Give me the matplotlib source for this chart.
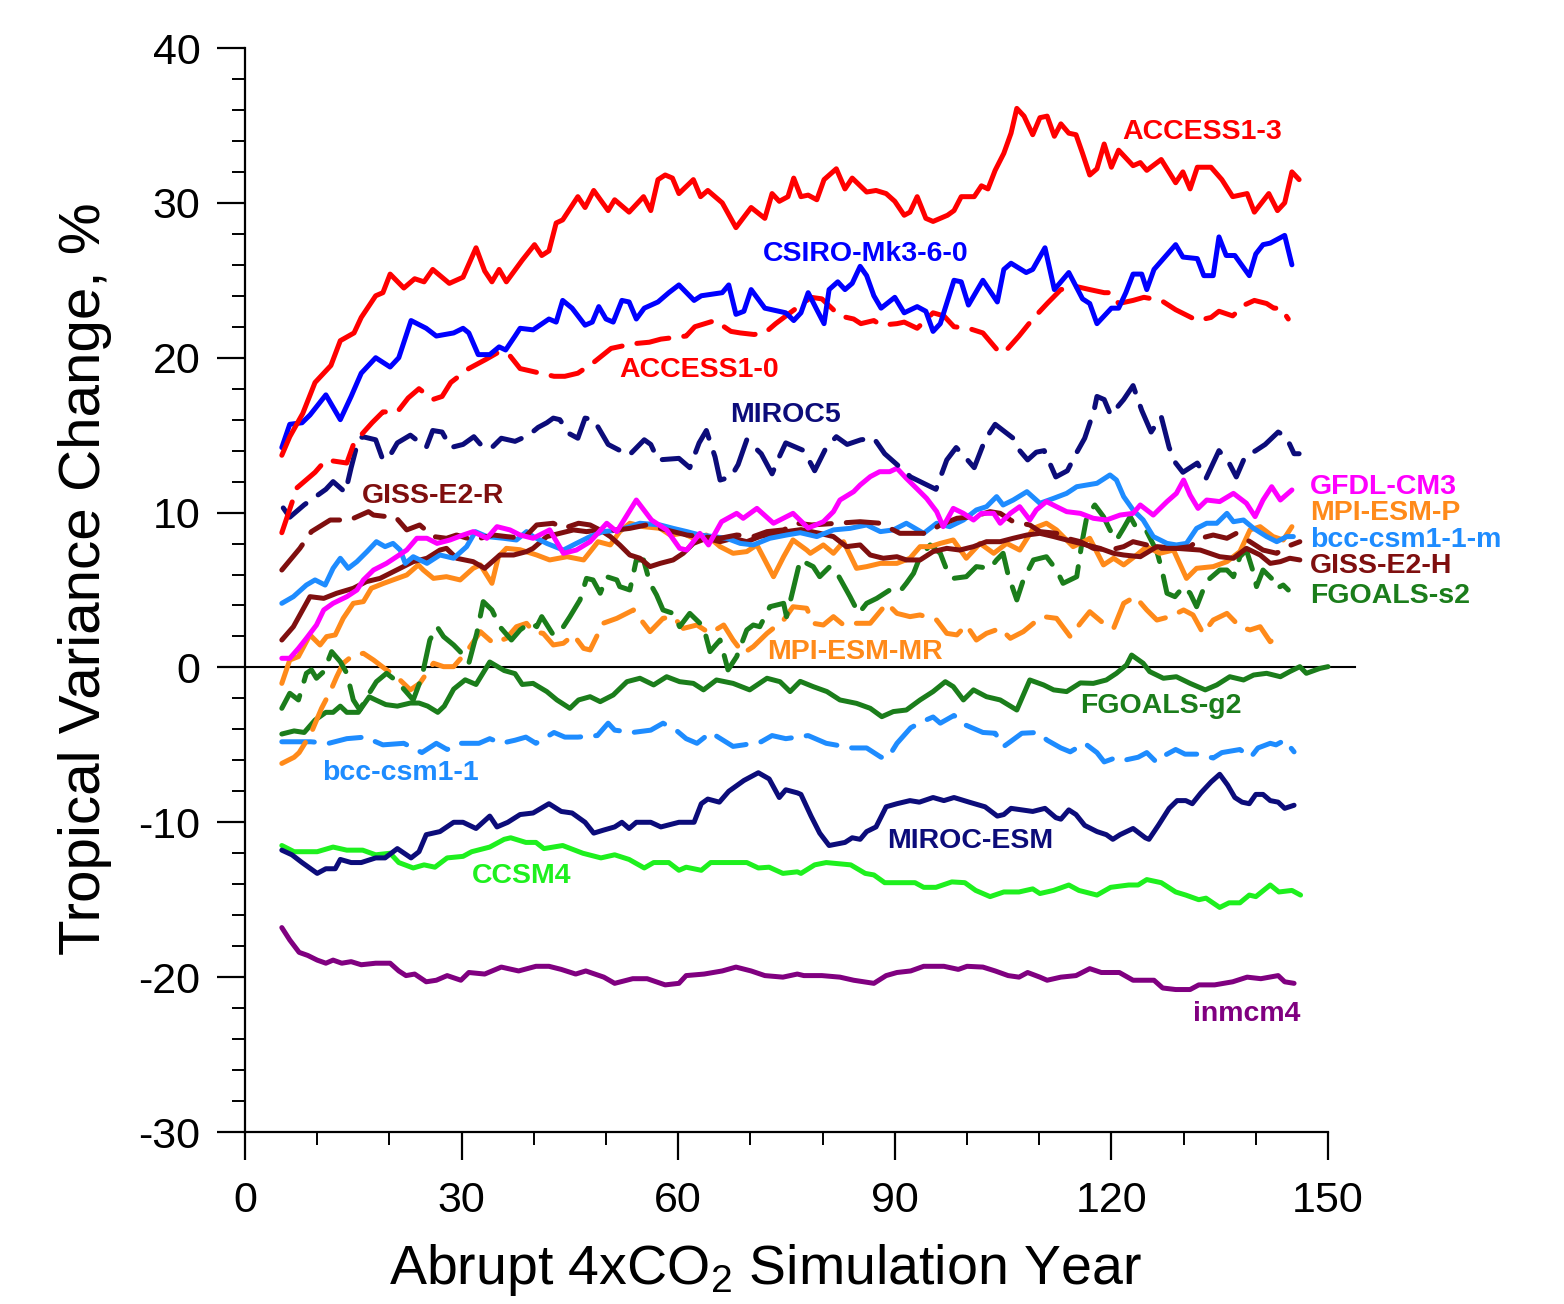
import numpy as np
import matplotlib
matplotlib.use("Agg")
import matplotlib.pyplot as plt
from matplotlib.ticker import FixedLocator

plt.rcParams['font.family'] = ['Liberation Sans', 'DejaVu Sans']
plt.rcParams['mathtext.fontset'] = 'custom'
plt.rcParams['mathtext.rm'] = 'Liberation Sans'
plt.rcParams['mathtext.it'] = 'Liberation Sans:italic'
plt.rcParams['axes.unicode_minus'] = False

# (year, % change)
access13 = [(5.1,13.7),(6.2,14.9),(8.0,16.4),(9.7,18.4),(11.9,19.5),(13.2,21.1),(15.1,21.6),(16.1,22.6),
            (18.1,24.0),(19.1,24.2),(20.1,25.4),(22.0,24.5),(23.5,25.1),(24.8,24.9),(26.0,25.7),(28.3,24.8),
            (30.2,25.2),(32.0,27.1),(33.2,25.6),(34.2,24.9),(35.2,25.7),(36.2,24.9),(38.4,26.3),(40.1,27.3),
            (41.1,26.6),(42.1,26.9),(43.1,28.7),(44.0,28.9),(46.1,30.4),(47.1,29.7),(48.3,30.8),(50.3,29.5),
            (51.2,30.2),(53.2,29.4),(55.2,30.4),(56.2,29.5),(57.2,31.5),(58.2,31.8),(59.2,31.6),(60.1,30.6),
            (62.1,31.5),(63.1,30.4),(64.1,30.8),(66.1,30.0),(68.0,28.4),(70.1,29.7),(72.0,29.0),(73.0,30.6),
            (74.0,30.1),(75.2,30.4),(76.0,31.6),(77.0,30.4),(78.0,30.5),(79.2,30.2),(80.2,31.5),(81.9,32.2),
            (83.1,30.9),(84.1,31.6),(86.1,30.7),(87.4,30.8),(88.8,30.6),(90.0,30.1),(91.3,29.2),(92.1,29.4),
            (93.1,30.4),(94.3,29.0),(95.3,28.8),(97.3,29.2),(98.2,29.5),(99.2,30.4),(101.0,30.4),(102.0,31.1),
            (102.9,30.9),(103.9,32.1),(105.1,33.2),(106.1,34.5),(106.9,36.1),(107.9,35.6),(109.1,34.4),
            (110.1,35.5),(111.1,35.6),(112.1,34.3),(113.0,35.1),(114.1,34.5),(115.1,34.4),(116.0,33.2),
            (117.0,31.8),(118.0,32.2),(119.0,33.8),(120.0,32.3),(121.0,33.4),(123.0,32.4),(124.0,32.6),
            (124.9,32.1),(126.9,32.8),(128.9,31.3),(129.9,32.0),(130.9,30.9),(131.9,32.3),(133.8,32.3),
            (135.3,31.5),(136.8,30.4),(138.8,30.6),(139.8,29.4),(141.8,30.6),(143.0,29.5),(144.0,30.0),
            (145.0,32.0),(146.0,31.5)]

csiro = [(5.1,14.2),(6.2,15.7),(7.9,15.8),(9.0,16.3),(11.2,17.6),(13.2,16.0),(14.7,17.5),(16.1,19.0),
         (18.1,20.0),(20.1,19.4),(21.3,20.0),(23.0,22.4),(25.1,21.9),(26.5,21.4),(28.9,21.6),(30.2,21.9),
         (31.0,21.6),(32.3,20.2),(33.9,20.2),(35.2,20.7),(36.1,20.5),(37.4,21.4),(38.1,21.9),(39.9,21.8),
         (42.1,22.5),(43.1,22.3),(44.0,23.7),(45.3,23.2),(47.1,22.1),(48.1,22.3),(49.0,23.3),(50.0,22.5),
         (51.0,22.3),(52.2,23.7),(53.2,23.6),(54.2,22.5),(55.3,23.2),(57.2,23.6),(58.7,24.2),(60.1,24.7),
         (62.2,23.7),(63.2,24.0),(66.1,24.2),(67.0,24.7),(68.0,22.8),(69.1,23.0),(70.1,24.4),(72.0,23.2),
         (74.9,22.9),(76.0,22.4),(77.0,22.9),(78.0,24.2),(79.2,23.1),(80.2,22.2),(80.9,24.4),(82.1,24.9),
         (83.1,24.4),(84.1,24.8),(85.2,25.9),(86.1,25.3),(87.1,24.0),(88.1,23.2),(90.0,23.9),(91.3,22.9),
         (93.1,23.3),(94.3,23.0),(95.3,21.7),(96.3,22.2),(98.2,25.0),(99.2,24.9),(100.2,23.4),(102.2,25.0),
         (104.2,23.6),(105.1,25.7),(106.1,26.1),(108.2,25.5),(109.1,25.7),(110.8,27.1),(112.1,24.4),
         (114.1,25.5),(116.0,23.8),(117.0,23.5),(118.0,22.2),(120.0,23.2),(121.0,23.2),(122.0,24.2),
         (123.0,25.4),(124.2,25.4),(124.9,24.4),(125.9,25.7),(128.9,27.3),(129.9,26.5),(131.9,26.4),
         (132.8,25.3),(134.1,25.3),(134.9,27.8),(135.9,26.6),(137.1,26.6),(139.1,25.3),(140.0,26.7),
         (141.0,27.3),(142.0,27.4),(144.0,27.9),(145.0,26.0)]

access10 = [(5.1,8.7),(7.2,11.6),(9.7,12.6),(11.2,13.4),(14.1,13.2),(15.1,14.5),(17.6,15.8),(19.1,16.5),
            (21.1,16.5),(22.6,17.4),(24.1,18.0),(26.0,17.3),(27.3,17.5),(28.5,18.4),(31.0,19.3),(33.4,19.9),
            (34.9,20.3),(36.4,20.3),(38.1,19.3),(40.9,19.0),(42.8,18.8),(44.3,18.8),(46.1,19.0),(48.3,19.7),
            (50.7,20.6),(53.7,20.9),(56.0,21.0),(57.6,21.2),(61.1,21.4),(62.3,22.0),(65.1,22.4),(67.3,21.7),
            (68.6,21.6),(70.5,21.5),(72.0,21.6),(73.5,22.2),(75.5,22.9),(78.4,23.9),(79.9,23.8),(82.4,22.7),
            (84.3,22.5),(85.3,22.2),(87.1,22.4),(88.1,22.1),(90.3,22.2),(91.3,22.3),(93.1,21.9),(95.3,22.9),
            (96.8,22.7),(98.2,22.0),(100.2,21.9),(102.2,21.6),(104.2,20.5),(105.1,20.3),(107.2,21.4),
            (109.1,22.5),(111.1,23.5),(113.0,24.4),(115.1,24.6),(117.0,24.4),(119.0,24.2),(120.0,24.2),
            (121.0,23.5),(123.0,23.7),(124.5,23.9),(126.9,23.7),(128.9,23.1),(131.9,22.4),(133.8,22.6),
            (134.9,23.0),(136.8,22.7),(138.4,23.4),(139.8,23.7),(141.5,23.5),(142.5,23.2),(143.5,23.2),
            (144.5,22.5)]

miroc5 = [(5.3,10.3),(6.2,9.7),(8.2,10.5),(10.0,11.1),(11.2,11.5),(12.2,12.0),(13.9,11.3),(14.7,12.9),
          (15.7,14.7),(16.3,14.9),(18.1,14.7),(19.1,13.4),(20.1,13.7),(21.1,14.5),(22.9,15.0),(25.1,14.2),
          (26.0,15.3),(27.3,15.2),(28.5,14.2),(30.2,14.4),(31.7,14.9),(33.0,14.2),(34.2,14.2),(35.5,14.8),
          (37.4,14.6),(39.3,15.0),(40.6,15.5),(41.8,15.8),(42.7,16.1),(43.6,16.0),(44.9,15.1),(46.1,14.8),
          (47.1,16.1),(48.3,16.0),(49.3,15.2),(50.3,14.4),(53.2,13.7),(55.3,14.7),(56.2,14.4),(57.2,13.4),
          (60.1,13.5),(61.6,12.9),(62.9,14.5),(63.9,15.3),(65.1,13.6),(65.8,12.1),(67.3,12.3),(68.3,13.1),
          (69.5,14.7),(71.5,13.8),(73.0,12.5),(74.0,13.6),(74.9,14.5),(77.4,14.0),(78.9,12.7),(80.5,14.2),
          (81.9,14.9),(83.4,14.4),(85.3,14.7),(87.1,14.8),(88.6,13.8),(90.3,13.1),(92.2,12.3),(95.7,11.5),
          (97.2,13.4),(98.5,14.2),(99.7,13.6),(101.0,12.9),(102.5,14.7),(103.9,15.7),(106.4,14.8),
          (107.3,14.0),(108.4,13.4),(109.6,13.9),(110.7,14.0),(112.3,12.3),(113.9,12.7),(115.1,13.8),
          (116.3,14.8),(117.6,16.6),(118.0,17.5),(119.0,17.3),(119.9,16.3),(121.7,17.3),(123.0,18.2),
          (124.2,16.6),(125.5,15.2),(126.9,16.2),(128.0,14.2),(128.9,13.2),(129.9,12.6),(131.9,13.2),
          (133.1,12.2),(134.9,14.0),(136.3,13.2),(137.3,12.3),(138.5,13.6),(140.0,14.0),(141.3,14.4),
          (143.1,15.2),(144.2,14.9),(145.3,13.8),(146.0,13.8)]

giss_e2_r = [(5.1,6.29),(7.6,7.69),(9.2,8.77),(11.8,9.52),(14.5,9.52),(17.1,10.06),(17.8,9.84),(19.6,9.74),
             (20.8,9.74),(22.4,8.88),(24.2,9.2),(26.1,8.45),(27.9,8.34),(29.3,8.55),(31.6,8.23),(34.4,8.55),
             (36.2,8.45),(38.6,8.34),(40.4,9.2),(42.7,9.31),(44.1,8.98),(46.2,9.31),(47.8,9.2),(49.6,8.77),
             (51.5,8.88),(53.3,8.98),(55.6,9.2),(57.5,8.98),(59.3,8.77),(61.2,8.55),(63.0,8.45),(65.8,8.34),
             (68.1,8.55),(70.4,8.45),(72.3,8.77),(74.6,8.88),(76.4,9.31),(78.5,9.2),(82.0,9.31),(85.2,9.41),
             (88.0,9.31),(90.7,8.66),(93.0,8.66),(94.4,8.66),(96.3,9.2),(98.6,9.63),(100.9,9.74),(103.2,10.06),
             (104.6,9.95),(106.4,9.41),(108.7,9.2),(110.1,8.77),(112.4,8.66),(113.8,8.34),(115.7,8.12),
             (117.5,7.69),(119.8,7.58),(121.7,7.8),(123.0,8.12),(124.9,7.91),(126.7,7.69),(129.0,7.69),
             (130.9,7.8),(132.3,8.34),(134.1,8.55),(136.0,8.34),(137.3,8.66),(139.2,8.12),(141.0,7.58),
             (142.9,7.37),(144.3,7.8),(146.1,8.12)]

giss_e2_h = [(5.1,1.77),(6.7,2.63),(9.0,4.57),(10.9,4.46),(12.7,4.79),(15.0,5.11),(16.8,5.54),(18.7,5.75),
             (21.0,6.29),(23.3,6.83),(25.2,7.05),(27.0,7.58),(27.9,7.69),(29.3,7.05),(31.6,6.83),(33.2,6.4),
             (35.3,7.26),(37.2,7.26),(39.0,7.48),(39.9,7.69),(41.8,8.45),(43.6,8.66),(45.5,8.88),(47.3,8.77),
             (49.2,8.88),(50.6,8.45),(51.9,7.91),(53.3,7.26),(54.7,7.05),(56.1,6.51),(57.5,6.72),(59.3,6.94),
             (60.7,7.37),(62.1,8.01),(63.9,8.34),(65.8,8.12),(67.6,8.34),(69.5,8.12),(71.3,8.45),(73.2,8.66),
             (75.0,8.77),(77.0,8.9),(79.6,8.66),(81.5,8.45),(83.3,7.8),(85.2,7.91),(86.6,7.26),(88.4,7.05),
             (90.3,7.15),(91.6,6.94),(93.5,6.94),(95.3,7.48),(97.2,7.69),(99.0,7.58),(100.9,7.8),(102.7,8.12),
             (104.6,8.12),(106.4,8.34),(108.3,8.55),(110.1,8.66),(112.0,8.45),(113.8,8.23),(115.7,8.01),
             (118.4,7.69),(120.3,7.37),(121.7,7.26),(124.0,7.15),(126.3,7.8),(129.0,7.69),(132.3,7.58),
             (135.0,7.15),(136.9,7.05),(138.7,7.69),(140.6,7.26),(142.0,6.72),(143.4,6.83),(144.7,7.05),
             (146.1,6.94)]

bcc_m = [(5.1,4.14),(6.7,4.57),(8.5,5.32),(9.7,5.65),(11.1,5.32),(12.2,6.4),(13.2,7.05),(14.3,6.4),
         (15.5,6.83),(16.9,7.48),(18.2,8.12),(19.4,7.8),(20.5,8.01),(21.5,7.58),(22.2,6.72),(23.3,7.15),
         (25.2,6.72),(27.0,7.26),(28.9,7.05),(30.7,7.8),(31.9,8.77),(33.5,8.45),(35.8,8.34),(37.6,8.23),
         (39.0,8.77),(39.9,8.45),(41.8,8.01),(44.1,7.58),(45.9,8.01),(47.8,8.45),(49.6,8.77),(51.9,8.88),
         (54.7,9.31),(57.5,9.2),(59.3,8.98),(61.2,8.77),(63.0,8.55),(64.9,8.45),(66.7,8.34),(68.6,8.01),
         (70.4,7.91),(72.7,8.34),(75.0,8.55),(76.9,8.7),(79.2,8.45),(81.5,8.88),(83.8,8.98),(86.1,9.2),
         (88.0,8.77),(89.8,8.88),(91.6,9.31),(94.0,8.66),(95.8,9.31),(97.6,9.09),(99.5,9.52),(101.3,10.17),
         (102.7,10.38),(104.1,11.03),(105.0,10.49),(106.4,10.81),(108.3,11.35),(110.1,10.6),(112.0,10.92),
         (113.8,11.24),(115.2,11.67),(116.6,11.78),(118.0,11.89),(119.8,12.43),(120.7,12.1),(121.7,11.03),
         (123.0,10.17),(124.4,9.52),(125.8,8.45),(127.7,8.01),(129.0,7.91),(130.4,8.01),(131.8,8.98),
         (133.2,9.31),(134.6,9.31),(136.0,9.95),(136.9,9.41),(138.3,9.52),(139.7,8.98),(141.5,8.45),
         (142.9,8.12),(144.3,8.45),(145.2,8.45)]

gfdl = [(5.1,0.59),(6.2,0.59),(7.4,1.23),(8.5,1.88),(9.9,2.74),(10.9,3.71),(12.2,4.14),(14.1,4.57),
        (15.5,5.0),(16.4,5.65),(17.8,6.29),(19.6,6.72),(21.0,7.15),(22.4,7.58),(23.8,8.34),(25.2,8.34),
        (26.6,8.01),(28.4,8.23),(30.2,8.55),(31.6,8.77),(33.5,8.34),(34.9,9.09),(36.7,8.88),(38.1,8.55),
        (39.9,8.34),(42.2,8.88),(44.1,7.37),(45.9,7.58),(47.8,8.12),(50.1,9.31),(51.5,8.77),(54.2,10.81),
        (56.3,9.52),(58.4,8.88),(60.2,7.69),(61.2,7.58),(63.0,8.66),(64.2,7.91),(66.0,9.41),(68.1,9.95),
        (69.0,9.63),(70.9,10.27),(73.2,9.31),(75.9,9.95),(78.0,9.0),(80.1,9.41),(81.5,10.06),(82.4,10.81),
        (84.3,11.35),(85.2,11.78),(86.6,12.32),(87.9,12.64),(89.3,12.64),(90.3,12.86),(91.6,12.21),
        (93.0,11.57),(94.4,10.92),(95.8,10.06),(96.7,9.09),(98.1,10.27),(99.5,9.95),(100.9,9.52),
        (102.0,9.95),(103.7,9.95),(104.6,9.31),(106.0,9.95),(107.3,10.38),(108.7,9.52),(109.6,10.17),
        (111.0,10.71),(112.4,10.38),(113.8,10.06),(115.7,9.95),(117.5,9.63),(119.3,9.52),(121.2,9.84),
        (123.0,9.95),(124.0,10.49),(125.8,9.84),(127.7,10.71),(129.0,11.24),(130.0,12.1),(130.9,11.13),
        (132.0,10.27),(133.2,10.81),(135.0,10.71),(136.9,11.24),(138.7,10.6),(139.9,9.74),(141.0,10.81),
        (142.2,11.67),(143.4,10.81),(145.0,11.46)]

mpi_p = [(5.1,-1.03),(6.2,0.48),(7.4,0.7),(9.0,2.1),(10.4,1.45),(11.3,1.99),(12.5,2.1),(13.6,3.17),
         (15.0,4.14),(16.4,4.25),(17.5,5.11),(19.2,5.43),(20.5,5.65),(22.4,5.97),(24.0,6.62),(24.7,6.29),
         (26.1,5.75),(27.9,5.86),(29.8,5.65),(31.6,6.4),(32.6,6.62),(34.2,5.43),(35.1,7.15),(36.2,7.69),
         (38.1,7.6),(40.4,7.26),(42.2,6.94),(44.6,7.15),(46.9,6.94),(48.9,8.12),(50.6,7.91),(51.9,8.77),
         (53.3,9.31),(55.2,9.09),(57.5,8.98),(58.9,8.55),(60.7,8.66),(62.1,8.34),(63.9,8.55),(65.8,7.8),
         (67.6,7.37),(69.5,7.48),(70.9,7.91),(73.2,5.86),(74.6,7.15),(75.9,8.23),(77.8,7.58),(78.3,7.37),
         (80.1,7.91),(81.5,7.37),(82.9,8.12),(84.7,6.4),(86.1,6.51),(88.0,6.72),(90.3,6.72),(92.1,7.05),
         (93.5,7.8),(94.9,7.8),(96.3,8.01),(98.1,8.23),(99.9,7.05),(101.8,8.01),(103.7,7.37),(105.5,8.01),
         (107.3,7.58),(109.2,8.98),(111.0,9.31),(112.4,8.88),(114.7,7.8),(116.6,8.23),(117.0,8.34),
         (118.9,6.62),(120.3,7.05),(121.7,6.62),(123.5,7.26),(124.9,7.8),(126.7,7.37),(128.6,7.58),
         (130.4,5.75),(131.8,6.4),(134.1,6.51),(136.0,6.83),(137.8,7.48),(139.2,8.88),(140.6,9.09),
         (142.4,8.45),(143.8,8.23),(145.0,9.09)]

mpi_mr = [(5.1,-6.2),(6.8,-5.8),(7.5,-5.5),(9.1,-4.3),(10.6,-2.64),(11.8,-1.56),(12.7,-0.6),(13.6,0.27),
          (15.0,0.8),(16.4,0.91),(17.8,0.48),(19.6,-0.16),(21.0,-0.6),(22.9,-1.45),(24.2,-1.03),(26.1,0.27),
          (27.5,0.05),(28.9,0.05),(30.7,1.02),(32.6,2.31),(34.4,1.56),(36.2,1.88),(37.6,2.63),(39.0,2.85),
          (39.9,2.31),(41.3,2.2),(42.7,1.45),(44.1,1.56),(45.5,2.1),(46.9,1.23),(47.8,1.13),(49.6,2.85),
          (51.5,3.17),(53.8,3.71),(56.1,2.31),(57.9,3.17),(59.3,3.28),(60.7,2.52),(62.6,2.74),(64.4,2.2),
          (66.3,2.74),(67.6,1.77),(69.0,0.91),(70.4,1.34),(72.3,2.2),(74.6,3.06),(75.9,3.92),(77.8,3.82),
          (78.7,2.85),(80.1,2.74),(81.5,3.28),(82.9,2.74),(84.3,2.85),(86.6,2.85),(88.9,4.14),(90.3,3.49),
          (92.1,3.28),(93.5,3.39),(95.8,3.06),(97.2,2.2),(98.6,2.1),(99.9,2.74),(101.3,1.77),(102.7,2.2),
          (104.6,2.52),(106.0,1.88),(107.8,2.31),(109.2,2.85),(110.6,3.28),(112.4,3.17),(114.3,1.99),
          (115.7,2.85),(117.0,3.6),(118.9,2.85),(120.3,2.52),(121.7,4.14),(123.3,4.57),(124.9,3.71),
          (126.3,3.06),(128.1,3.28),(130.0,3.71),(131.3,3.39),(132.7,2.2),(134.1,3.06),(136.0,3.49),
          (137.8,2.63),(139.2,2.42),(140.6,2.63),(142.0,1.66),(143.4,2.1)]

fgoals_s2 = [(5.1,-2.64),(6.2,-1.67),(7.4,-2.1),(8.5,-0.38),(9.2,-0.16),(9.9,-0.7),(10.9,-0.27),(12.0,1.02),
             (13.2,0.37),(14.1,-0.38),(15.0,-2.1),(15.9,-2.75),(16.9,-1.89),(18.2,-0.92),(19.6,-0.38),
             (20.5,-0.7),(21.9,-1.35),(23.3,-2.1),(24.5,-0.6),(25.6,1.77),(26.6,2.63),(27.5,1.99),(28.9,1.45),
             (29.8,1.02),(31.0,0.27),(32.1,2.2),(33.0,4.25),(34.2,3.71),(35.3,2.63),(36.9,1.77),(38.1,2.42),
             (39.5,2.9),(40.4,2.63),(41.1,3.28),(42.7,2.1),(44.1,2.63),(45.0,3.28),(46.4,4.36),(47.3,5.75),
             (48.2,5.65),(49.2,4.79),(50.1,5.86),(51.5,5.65),(51.9,5.22),(53.3,5.0),(54.2,6.94),(55.2,6.94),
             (56.1,5.43),(57.0,4.68),(57.9,3.71),(59.3,3.49),(60.2,2.63),(61.6,3.49),(63.5,2.63),(64.4,1.02),
             (65.8,1.77),(66.9,-0.16),(68.1,0.7),(69.5,2.42),(70.4,2.74),(71.3,2.63),(72.7,3.92),(74.6,4.14),
             (75.0,3.28),(75.9,5.0),(76.9,6.94),(78.7,6.51),(79.6,5.86),(81.0,6.51),(82.0,6.08),(83.8,4.57),
             (85.0,3.49),(86.1,4.14),(87.5,4.46),(89.3,5.0),(90.7,4.9),(91.6,5.43),(92.6,6.08),(93.5,7.15),
             (94.9,7.91),(96.3,7.37),(97.2,6.29),(98.1,5.75),(99.9,5.86),(101.3,6.51),(103.2,6.4),(104.1,6.94),
             (105.0,7.37),(105.7,5.97),(106.9,4.36),(107.8,5.65),(109.2,6.94),(111.0,7.15),(112.4,6.29),
             (113.3,5.43),(115.2,5.86),(115.9,8.01),(116.6,9.74),(117.7,10.49),(118.9,9.74),(119.8,8.88),
             (120.7,8.23),(121.7,9.0),(122.6,9.74),(123.5,8.98),(124.9,8.77),(126.3,7.48),(127.0,6.29),
             (127.7,4.79),(128.8,4.57),(130.0,5.22),(130.9,4.79),(131.8,3.92),(132.7,5.0),(133.4,5.65),
             (135.0,6.29),(136.0,6.29),(136.9,5.86),(137.8,7.15),(138.7,7.58),(139.7,6.08),(140.1,5.22),
             (141.0,6.29),(142.4,5.65),(142.9,5.11),(143.8,5.32),(144.5,5.0)]

fgoals_g2 = [(5.1,-4.3),(6.8,-4.1),(8.2,-4.2),(9.7,-3.4),(11.2,-2.9),(12.2,-2.9),(13.2,-2.5),(14.1,-2.9),
             (15.7,-2.9),(17.2,-1.9),(18.1,-2.1),(19.5,-2.4),(21.1,-2.5),(22.9,-2.3),(24.1,-2.3),(25.3,-2.5),
             (26.7,-2.9),(27.6,-2.5),(28.9,-1.4),(30.5,-0.8),(32.0,-1.1),(33.9,0.35),(35.9,-0.2),(37.4,-0.4),
             (38.4,-1.1),(39.9,-1.03),(41.8,-1.56),(43.2,-2.1),(45.0,-2.64),(46.2,-2.1),(47.8,-1.89),(49.2,-2.21),
             (51.0,-1.78),(52.9,-0.92),(54.7,-0.7),(56.6,-1.13),(58.4,-0.6),(60.2,-0.92),(62.1,-1.03),
             (63.5,-1.45),(65.3,-0.81),(67.6,-1.03),(69.9,-1.45),(72.3,-0.7),(74.1,-0.92),(75.5,-1.56),
             (76.9,-0.9),(78.7,-1.24),(80.6,-1.56),(82.4,-2.1),(84.7,-2.32),(86.6,-2.64),(88.2,-3.18),
             (89.8,-2.85),(91.6,-2.75),(93.5,-2.1),(95.3,-1.56),(97.0,-0.92),(98.1,-1.24),(99.5,-2.1),
             (100.9,-1.45),(102.7,-1.89),(104.6,-2.1),(106.9,-2.75),(108.7,-0.81),(110.6,-1.13),(112.0,-1.45),
             (113.8,-1.56),(115.7,-1.0),(117.5,-1.03),(119.3,-0.81),(120.7,-0.38),(122.1,0.16),(122.8,0.8),
             (124.4,0.27),(125.3,-0.27),(127.2,-0.7),(129.0,-0.6),(130.9,-1.03),(133.0,-1.45),(134.6,-1.13),
             (136.4,-0.6),(138.3,-0.81),(139.7,-0.49),(141.5,-0.38),(143.4,-0.6),(144.7,-0.27),(146.1,0.05),
             (147.0,-0.38),(148.9,-0.06),(150.0,0.05)]

bcc = [(5.1,-4.8),(9.1,-4.8),(11.6,-4.9),(14.1,-4.6),(16.6,-4.5),(19.1,-5.0),(22.0,-4.9),(24.5,-5.5),
       (26.5,-4.9),(28.0,-5.3),(29.9,-4.9),(32.4,-4.9),(33.9,-4.6),(35.5,-4.9),(37.4,-4.7),(38.9,-4.5),
       (40.3,-4.9),(42.8,-4.2),(44.3,-4.5),(46.1,-4.5),(48.8,-4.4),(50.3,-3.6),(51.2,-4.05),(53.7,-4.2),
       (56.2,-4.05),(57.9,-3.6),(59.7,-4.05),(61.1,-4.6),(62.6,-4.9),(64.5,-4.2),(67.6,-5.1),(69.1,-5.0),
       (71.5,-4.8),(73.0,-4.4),(74.9,-4.6),(78.0,-4.4),(80.5,-4.9),(84.1,-5.2),(86.1,-5.2),(88.1,-5.8),
       (89.1,-5.8),(90.3,-4.9),(92.2,-3.9),(93.8,-3.5),(95.3,-3.2),(96.3,-3.6),(98.2,-3.1),(99.7,-3.7),
       (102.2,-4.2),(103.9,-4.25),(105.1,-5.1),(106.0,-4.8),(107.6,-4.25),(109.8,-4.2),(111.1,-4.7),
       (113.0,-5.2),(114.3,-5.45),(116.3,-4.9),(118.0,-5.5),(119.0,-6.1),(120.5,-5.85),(121.7,-6.0),
       (123.7,-5.8),(124.9,-5.5),(126.2,-6.1),(126.9,-5.8),(128.9,-5.3),(130.2,-5.6),(131.9,-5.6),
       (134.1,-5.85),(135.3,-5.5),(137.8,-5.3),(139.3,-5.8),(140.3,-5.2),(142.0,-4.9),(142.8,-5.0),
       (144.0,-4.7),(145.3,-5.45)]

miroc_esm = [(5.1,-11.8),(6.5,-12.1),(7.9,-12.6),(10.0,-13.3),(11.2,-13.0),(12.5,-13.0),(13.2,-12.4),(14.7,-12.6),
             (16.1,-12.6),(18.1,-12.3),(19.4,-12.3),(21.1,-11.7),(23.0,-12.3),(24.1,-11.9),(25.1,-10.8),
             (27.0,-10.6),(28.9,-10.0),(30.2,-10.0),(32.0,-10.4),(33.9,-9.6),(34.9,-10.3),(36.4,-10.0),
             (38.1,-9.5),(39.9,-9.4),(42.1,-8.8),(43.8,-9.3),(45.3,-9.4),(47.1,-10.0),(48.3,-10.7),(49.7,-10.5),
             (51.2,-10.3),(52.2,-10.0),(53.2,-10.4),(54.2,-10.0),(56.2,-10.0),(57.6,-10.3),(60.1,-10.0),
             (62.2,-10.0),(63.2,-8.8),(64.1,-8.5),(65.7,-8.7),(67.0,-8.0),(69.1,-7.3),(71.1,-6.8),(72.6,-7.2),
             (74.0,-8.4),(74.9,-7.9),(76.5,-8.1),(77.0,-8.2),(78.4,-9.6),(79.6,-10.7),(80.9,-11.5),(83.1,-11.3),
             (84.1,-11.0),(85.2,-11.1),(86.1,-10.6),(87.4,-10.3),(88.8,-9.0),(90.3,-8.8),(92.1,-8.6),(93.4,-8.7),
             (95.3,-8.4),(96.8,-8.6),(98.2,-8.4),(100.3,-8.7),(102.5,-9.0),(104.2,-9.6),(105.1,-9.5),(106.1,-9.1),
             (109.1,-9.3),(110.8,-9.1),(112.3,-9.7),(113.0,-9.8),(114.1,-9.2),(115.1,-9.5),(116.3,-10.2),
             (118.0,-10.6),(119.3,-10.8),(120.2,-11.1),(121.2,-10.8),(123.0,-10.4),(124.7,-11.0),(125.2,-11.1),
             (126.5,-10.2),(128.0,-9.1),(129.1,-8.6),(130.3,-8.6),(131.2,-8.8),(132.4,-8.1),(133.8,-7.4),
             (135.0,-6.9),(136.1,-7.6),(137.1,-8.4),(138.1,-8.7),(139.1,-8.8),(140.0,-8.2),(141.0,-8.2),
             (142.0,-8.6),(143.1,-8.7),(144.0,-9.1),(145.3,-8.9)]

ccsm4 = [(5.1,-11.5),(6.8,-11.9),(10.0,-11.9),(12.2,-11.6),(14.1,-11.8),(16.3,-11.8),(18.1,-12.1),(20.1,-12.0),
         (21.3,-12.6),(23.3,-12.95),(24.8,-12.75),(26.3,-12.9),(28.0,-12.3),(30.2,-12.2),(31.4,-11.9),
         (33.9,-11.6),(35.9,-11.1),(36.8,-11.0),(38.9,-11.3),(40.3,-11.3),(41.4,-11.7),(44.0,-11.5),
         (46.8,-12.0),(49.3,-12.3),(51.2,-12.1),(53.2,-12.4),(55.3,-12.95),(56.6,-12.6),(58.7,-12.6),
         (60.1,-13.1),(61.1,-12.9),(63.2,-13.1),(64.5,-12.6),(67.0,-12.6),(69.5,-12.6),(71.1,-12.95),
         (72.6,-12.9),(74.5,-13.3),(76.5,-13.2),(77.0,-13.3),(78.9,-12.75),(80.5,-12.6),(83.9,-12.75),
         (85.9,-13.3),(87.1,-13.4),(88.6,-13.9),(90.3,-13.9),(92.8,-13.9),(94.0,-14.2),(95.7,-14.2),
         (97.9,-13.85),(99.7,-13.9),(101.2,-14.4),(103.2,-14.8),(105.1,-14.5),(107.2,-14.5),(109.1,-14.3),
         (110.1,-14.6),(112.0,-14.4),(114.1,-14.05),(115.5,-14.4),(118.0,-14.7),(119.9,-14.2),(122.4,-14.05),
         (123.7,-14.05),(124.9,-13.7),(126.9,-13.9),(128.9,-14.5),(130.3,-14.7),(132.1,-15.0),(133.1,-14.9),
         (135.0,-15.5),(136.3,-15.2),(137.8,-15.2),(139.1,-14.7),(140.0,-14.8),(142.0,-14.05),(143.2,-14.5),
         (145.0,-14.4),(146.2,-14.7)]

inmcm4 = [(5.1,-16.8),(6.2,-17.6),(7.5,-18.4),(8.7,-18.6),(10.0,-18.9),(11.2,-19.1),(12.2,-18.9),(13.4,-19.1),
          (14.7,-19.0),(16.1,-19.2),(18.1,-19.1),(20.1,-19.1),(21.3,-19.6),(22.3,-19.9),(23.5,-19.8),
          (25.1,-20.3),(26.5,-20.2),(28.0,-19.9),(29.9,-20.2),(31.0,-19.7),(33.2,-19.8),(35.5,-19.35),
          (37.9,-19.6),(40.3,-19.3),(42.1,-19.3),(43.8,-19.5),(45.8,-19.8),(47.2,-19.6),(49.7,-20.0),
          (51.2,-20.4),(53.7,-20.1),(55.7,-20.1),(58.2,-20.5),(60.1,-20.4),(61.1,-19.9),(63.6,-19.8),
          (66.1,-19.6),(68.0,-19.35),(70.1,-19.6),(72.0,-19.9),(74.5,-20.0),(76.5,-19.8),(77.4,-19.9),
          (79.9,-19.9),(82.4,-20.0),(84.3,-20.2),(87.1,-20.4),(88.8,-19.9),(90.3,-19.7),(92.2,-19.6),
          (94.0,-19.3),(96.8,-19.3),(98.8,-19.5),(100.0,-19.3),(102.2,-19.35),(103.9,-19.6),(105.7,-19.9),
          (107.2,-20.0),(108.4,-19.7),(110.1,-20.0),(111.1,-20.2),(113.0,-20.0),(115.1,-19.9),(117.0,-19.45),
          (118.6,-19.7),(121.1,-19.7),(123.0,-20.2),(125.9,-20.2),(127.1,-20.7),(128.9,-20.8),(130.9,-20.8),
          (132.1,-20.5),(134.3,-20.5),(136.8,-20.3),(138.8,-20.0),(140.7,-20.1),(143.1,-19.9),(144.0,-20.3),
          (145.3,-20.4)]

RED = '#FF0000'
BLUE = '#0000FF'
NAVY = '#0C0C7A'
MAROON = '#7F0F0F'
MAGENTA = '#FF00FF'
ORANGE = '#FF8A1A'
SKY = '#1E8CFF'
GREEN = '#1B7D1B'
LIME = '#1EF01E'
PURPLE = '#800080'

# name, data, colour, dashed, label x, label y
series = [
    ('inmcm4', inmcm4, PURPLE, False, 131.3, -22.4),
    ('CCSM4', ccsm4, LIME, False, 31.4, -13.5),
    ('MIROC-ESM', miroc_esm, NAVY, False, 88.9, -11.2),
    ('bcc-csm1-1', bcc, SKY, True, 10.7, -6.8),
    ('FGOALS-g2', fgoals_g2, GREEN, False, 115.7, -2.5),
    ('MPI-ESM-MR', mpi_mr, ORANGE, True, 72.3, 1.0),
    ('FGOALS-s2', fgoals_s2, GREEN, True, 147.5, 4.6),
    ('MPI-ESM-P', mpi_p, ORANGE, False, 147.5, 10.0),
    ('GISS-E2-H', giss_e2_h, MAROON, False, 147.5, 6.55),
    ('bcc-csm1-1-m', bcc_m, SKY, False, 147.5, 8.25),
    ('GISS-E2-R', giss_e2_r, MAROON, True, 16.2, 11.1),
    ('GFDL-CM3', gfdl, MAGENTA, False, 147.5, 11.65),
    ('MIROC5', miroc5, NAVY, True, 67.2, 16.3),
    ('ACCESS1-0', access10, RED, True, 51.9, 19.2),
    ('CSIRO-Mk3-6-0', csiro, BLUE, False, 71.7, 26.7),
    ('ACCESS1-3', access13, RED, False, 121.5, 34.6),
]

fig = plt.figure(figsize=(15.64, 13.04), dpi=100)
ax = fig.add_axes([245/1564, 1 - 1132/1304, 160*7.22/1564, 1084/1304])

ax.plot([0, 153.8], [0, 0], color='black', lw=1.5, zorder=1)

for name, pts, col, dashed, lx, ly in series:
    arr = np.array(pts)
    ls = (0, (6.5, 3.0)) if dashed else '-'
    ax.plot(arr[:, 0], arr[:, 1], color=col, lw=3.6, ls=ls,
            solid_joinstyle='round', dash_capstyle='round', solid_capstyle='round', zorder=2)
    ax.text(lx, ly, name, color=col, fontsize=20.5, fontweight='bold', ha='left', va='center', zorder=3)

ax.set_xlim(0, 160)
ax.set_ylim(-30, 40)
for s in ['top', 'right']:
    ax.spines[s].set_visible(False)
ax.spines['bottom'].set_bounds(0, 150)
for s in ['left', 'bottom']:
    ax.spines[s].set_linewidth(1.6)

ax.xaxis.set_major_locator(FixedLocator([0, 30, 60, 90, 120, 150]))
ax.xaxis.set_minor_locator(FixedLocator([10, 20, 40, 50, 70, 80, 100, 110, 130, 140]))
ax.yaxis.set_major_locator(FixedLocator(list(range(-30, 41, 10))))
ax.yaxis.set_minor_locator(FixedLocator([v for v in range(-30, 41, 2) if v % 10 != 0]))

ax.tick_params(axis='both', which='major', length=20, width=1.6, labelsize=31, direction='out')
ax.tick_params(axis='both', which='minor', length=9.5, width=1.4, direction='out')
ax.tick_params(axis='x', which='major', pad=15)
ax.tick_params(axis='y', which='major', pad=12)

fig.text(85/1564, 1 - 579/1304, 'Tropical Variance Change, %', rotation=90,
         ha='center', va='center', fontsize=42)
fig.text(765/1564, 1 - 1270/1304, 'Abrupt 4xCO$_2$ Simulation Year',
         ha='center', va='center', fontsize=40)

fig.savefig('out.png', dpi=100)
